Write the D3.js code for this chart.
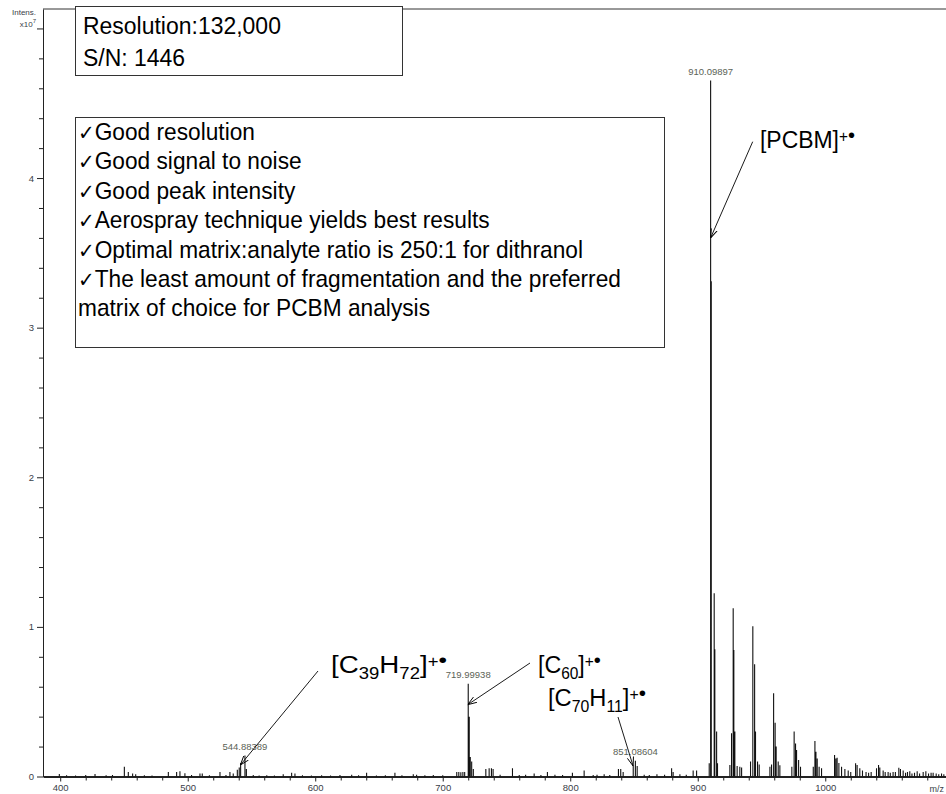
<!DOCTYPE html>
<html>
<head>
<meta charset="utf-8">
<script src="https://d3js.org/d3.v7.min.js"></script>
<style>
body { margin: 0; background: #fff; }
svg { display: block; }
.axis text { font-family: "Liberation Sans", Arial, sans-serif; font-size: 9.5px; fill: #3a4048; }
.axis line, .axis path { stroke: #222; }
.calibri { font-family: "Liberation Sans Narrow", "Arial Narrow", "Liberation Sans", Arial, sans-serif; fill: #000; }
.peaklab { font-family: "Liberation Sans", Arial, sans-serif; font-size: 9.5px; fill: #5b6356; }
</style>
</head>
<body>
<script>
// labelled peaks (m/z, intensity x10^7)
var labelMz = [544.88389, 719.99938, 851.08604, 910.09897];
var labelInt = [0.14, 0.62, 0.105, 4.652];

// PCBM region clusters
var clusterMz = [909.0, 910.6, 912.9, 913.4, 914.8, 915.5,
  925.2, 926.5, 927.8, 928.3, 929.1, 930.9, 933.0, 934.4,
  941.4, 943.2, 944.6, 945.3, 946.9, 948.2,
  956.6, 957.9, 959.5, 960.7, 961.5, 963.1, 964.4,
  973.8, 975.6, 976.7, 977.5, 979.1, 980.6,
  990.6, 991.9, 992.7, 993.7, 995.2, 997.1,
  1007.3, 1008.3, 1009.3, 1010.7, 1012.8, 1015.4,
  1023.8, 1025.0, 1027.1, 1029.2,
  1040.2, 1041.8, 1042.8, 1045.4, 1049.3, 1053.2,
  1057.7, 1059.0, 1061.1, 1066.3, 1072.1, 1076.8, 1078.9, 1084.6, 1091.2];
var clusterInt = [0.088, 3.31, 1.225, 0.85, 0.30, 0.088,
  0.077, 0.289, 1.124, 0.846, 0.30, 0.07, 0.065, 0.06,
  0.10, 1.005, 0.75, 0.30, 0.10, 0.08,
  0.065, 0.08, 0.556, 0.36, 0.20, 0.10, 0.075,
  0.065, 0.30, 0.22, 0.177, 0.11, 0.065,
  0.065, 0.237, 0.166, 0.12, 0.065, 0.055,
  0.144, 0.12, 0.125, 0.09, 0.065, 0.05,
  0.088, 0.077, 0.055, 0.04,
  0.055, 0.077, 0.06, 0.04, 0.03, 0.03,
  0.058, 0.05, 0.04, 0.035, 0.035, 0.03, 0.035, 0.025, 0.02];

// C60 region
var c60Mz = [711.0, 712.6, 714.2, 715.8, 717.2, 720.8, 721.6, 722.7, 724.0];
var c60Int = [0.03, 0.03, 0.028, 0.03, 0.03, 0.40, 0.13, 0.10, 0.05];

// small peaks along the baseline
var noiseMz = [399.3, 405, 412, 420, 427.3, 436, 441, 450.3, 453.4, 456.8, 459.2, 466, 472,
  484.8, 491.3, 493.9, 497.8, 503, 509.6, 511.4, 517, 525.3, 530, 533.1, 535.7, 538.9, 540.4, 541.5, 546.0,
  551.4, 556, 562, 568, 574.9, 581.5, 584.1, 590, 597, 605, 612, 619.4, 628.6, 634, 640.3, 648, 655,
  662.5, 668, 676.9, 679.5, 686, 692.6, 700,
  733.8, 736.4, 738.2, 739.5, 745, 754.7, 760, 765, 771.7, 777, 782.1, 788, 794, 801.7, 810.9,
  818, 821, 826.6, 831, 837.8, 839.6, 841.5, 849.4, 852.5, 858, 862, 868, 874, 879.5, 880.7, 886, 891, 896.4, 899.1,
  1018, 1020, 1032, 1034, 1036, 1047, 1051, 1055, 1063, 1064.5, 1068, 1070, 1074, 1081, 1083, 1087, 1089, 1093];
var noiseInt = [0.017, 0.008, 0.006, 0.01, 0.017, 0.008, 0.01, 0.066, 0.03, 0.02, 0.015, 0.008, 0.007,
  0.03, 0.03, 0.035, 0.022, 0.01, 0.02, 0.02, 0.008, 0.03, 0.01, 0.03, 0.02, 0.045, 0.06, 0.09, 0.05,
  0.01, 0.007, 0.008, 0.006, 0.015, 0.025, 0.02, 0.008, 0.006, 0.008, 0.007, 0.01, 0.012, 0.008, 0.025, 0.007, 0.009,
  0.025, 0.008, 0.015, 0.012, 0.008, 0.01, 0.008,
  0.05, 0.055, 0.055, 0.05, 0.012, 0.055, 0.01, 0.012, 0.02, 0.01, 0.03, 0.012, 0.01, 0.025, 0.04,
  0.01, 0.012, 0.015, 0.01, 0.05, 0.05, 0.03, 0.07, 0.07, 0.012, 0.01, 0.015, 0.012, 0.055, 0.03, 0.015, 0.012, 0.04, 0.04,
  0.04, 0.03, 0.03, 0.025, 0.03, 0.03, 0.025, 0.03, 0.025, 0.03, 0.02, 0.025, 0.02, 0.02, 0.025, 0.02, 0.015, 0.015];

var xTicks = [400, 500, 600, 700, 800, 900, 1000];
var xMinor = [420, 440, 460, 480, 520, 540, 560, 580, 620, 640, 660, 680, 720, 740, 760, 780,
  820, 840, 860, 880, 920, 940, 960, 980, 1020, 1040, 1060, 1080];
var yTicks = [0, 1, 2, 3, 4, 5];
var yMinor = [0.2, 0.4, 0.6, 0.8, 1.2, 1.4, 1.6, 1.8, 2.2, 2.4, 2.6, 2.8, 3.2, 3.4, 3.6, 3.8, 4.2, 4.4, 4.6, 4.8];

var statLines = ["Resolution:132,000", "S/N: 1446"];
var noteLines = [
  ["\u2713", "Good resolution"],
  ["\u2713", "Good signal to noise"],
  ["\u2713", "Good peak intensity"],
  ["\u2713", "Aerospray technique yields best results"],
  ["\u2713", "Optimal matrix:analyte ratio is 250:1 for dithranol"],
  ["\u2713", "The least amount of fragmentation and the preferred"],
  ["", "matrix of choice for PCBM analysis"]
];

// ion annotations: text parts, label anchor, arrow start, arrow tip (m/z, intensity)
var ions = [
  {parts: [["[PCBM]", ""], ["+", "sup"], ["\u2022", "dot"]], lx: 760, ly: 148, w: 95, sx: 752.7, sy: 141.7, tipMz: 910.1, tipInt: 3.6},
  {parts: [["[C", ""], ["60", "sub"], ["]", ""], ["+", "sup"], ["\u2022", "dot"]], lx: 538, ly: 673, w: 63, sx: 530, sy: 663, tipMz: 719.6, tipInt: 0.48},
  {parts: [["[C", ""], ["70", "sub"], ["H", ""], ["11", "sub"], ["]", ""], ["+", "sup"], ["\u2022", "dot"]], lx: 548, ly: 706, w: 98, sx: 618, sy: 717, tipMz: 849.3, tipInt: 0.07},
  {parts: [["[C", ""], ["39", "sub"], ["H", ""], ["72", "sub"], ["]", ""], ["+", "sup"], ["\u2022", "dot"]], lx: 331, ly: 673, w: 116, sx: 318, sy: 671, tipMz: 541.3, tipInt: 0.077}
];

var W = 946, H = 794;
var svg = d3.select("body").append("svg").attr("width", W).attr("height", H);
svg.append("rect").attr("width", W).attr("height", H).attr("fill", "#fff");

var x = d3.scaleLinear().domain([386.5, 1094.7]).range([43, 946]);
var y = d3.scaleLinear().domain([0, 5.13]).range([776.5, 9]);

// top frame line
svg.append("line").attr("x1", 43).attr("x2", W).attr("y1", y(5.13)).attr("y2", y(5.13))
  .attr("stroke", "#333").attr("stroke-width", 1);

// y axis
svg.append("g").attr("class", "axis").attr("transform", "translate(43,0)")
  .call(d3.axisLeft(y).tickValues(yTicks).tickSize(6).tickSizeOuter(0)
    .tickFormat(function(d) { return d < 5 ? d : ""; }));
svg.append("g").attr("class", "axis").attr("transform", "translate(43,0)")
  .call(d3.axisLeft(y).tickValues(yMinor).tickSize(4).tickSizeOuter(0).tickFormat(""))
  .select(".domain").remove();

// x axis
var xg = svg.append("g").attr("class", "axis").attr("transform", "translate(0," + y(0) + ")")
  .call(d3.axisBottom(x).tickValues(xTicks).tickSize(5).tickSizeOuter(0).tickFormat(d3.format("d")));
xg.select(".domain").attr("stroke-width", 2);
svg.append("g").attr("class", "axis").attr("transform", "translate(0," + y(0) + ")")
  .call(d3.axisBottom(x).tickValues(xMinor).tickSize(4).tickSizeOuter(0).tickFormat(""))
  .select(".domain").remove();

// axis captions
var cap = svg.append("g").attr("font-family", "Liberation Sans, Arial, sans-serif").attr("font-size", 8).attr("fill", "#3a4048");
cap.append("text").attr("x", 36).attr("y", 15).attr("text-anchor", "end").text("Intens.");
var xt = cap.append("text").attr("x", 36).attr("y", 27).attr("text-anchor", "end");
xt.append("tspan").text("x10");
xt.append("tspan").attr("dy", -4).attr("font-size", 6).text("7");
cap.append("text").attr("x", 944).attr("y", 792).attr("text-anchor", "end").attr("font-size", 9).text("m/z");

// spectrum sticks
var sticks = [];
noiseMz.forEach(function(m, i) { sticks.push([m, noiseInt[i]]); });
c60Mz.forEach(function(m, i) { sticks.push([m, c60Int[i]]); });
clusterMz.forEach(function(m, i) { sticks.push([m, clusterInt[i]]); });
labelMz.forEach(function(m, i) { sticks.push([m, labelInt[i]]); });
svg.append("path")
  .attr("d", sticks.map(function(p) { return "M" + x(p[0]) + "," + y(0) + "V" + y(p[1]); }).join(""))
  .attr("fill", "none").attr("stroke", "#111").attr("stroke-width", 1.1);

// peak m/z labels
svg.selectAll(".peaklab").data(labelMz).join("text")
  .attr("class", "peaklab")
  .attr("x", function(d) { return x(d); })
  .attr("y", function(d, i) { return y(labelInt[i]) - 6; })
  .attr("text-anchor", "middle")
  .text(function(d) { return d.toFixed(5); });

// squeeze a text group horizontally to a measured width
function fit(g, x0, target, node) {
  var w = node.getBBox().width;
  var k = target / w;
  g.attr("transform", "translate(" + x0 + ",0) scale(" + k + ",1) translate(" + (-x0) + ",0)");
}

// box 1
svg.append("rect").attr("x", 75.5).attr("y", 6.5).attr("width", 327).attr("height", 69)
  .attr("fill", "#fff").attr("stroke", "#333");
var g1 = svg.append("g").attr("class", "calibri");
g1.selectAll("text").data(statLines).join("text")
  .attr("x", 83).attr("y", function(d, i) { return 34 + i * 32; })
  .attr("font-size", 24).text(function(d) { return d; });
fit(g1, 83, 198, g1.select("text").node());

// box 2
svg.append("rect").attr("x", 75.5).attr("y", 117.5).attr("width", 589).attr("height", 230)
  .attr("fill", "#fff").attr("stroke", "#333");
var g2 = svg.append("g").attr("class", "calibri");
var nl = g2.selectAll("text").data(noteLines).join("text")
  .attr("x", 78).attr("y", function(d, i) { return 140 + i * 29.4; })
  .attr("font-size", 24);
nl.append("tspan").attr("font-family", "DejaVu Sans, sans-serif").attr("font-size", 21).text(function(d) { return d[0]; });
nl.append("tspan").text(function(d) { return d[1]; });
fit(g2, 78, 505, nl.nodes()[4]);

// arrows
var defs = svg.append("defs");
defs.append("marker").attr("id", "arr").attr("viewBox", "0 0 10 10")
  .attr("refX", 10).attr("refY", 5).attr("markerWidth", 9).attr("markerHeight", 9)
  .attr("markerUnits", "userSpaceOnUse").attr("orient", "auto")
  .append("path").attr("d", "M0,1.5L10,5L0,8.5").attr("fill", "none").attr("stroke", "#000").attr("stroke-width", 1);

svg.selectAll(".arrow").data(ions).join("line")
  .attr("class", "arrow")
  .attr("x1", function(d) { return d.sx; }).attr("y1", function(d) { return d.sy; })
  .attr("x2", function(d) { return x(d.tipMz); }).attr("y2", function(d) { return y(d.tipInt); })
  .attr("stroke", "#000").attr("stroke-width", 0.9).attr("marker-end", "url(#arr)");

// ion labels
ions.forEach(function(ion) {
  var g = svg.append("g").attr("class", "calibri");
  var t = g.append("text").attr("x", ion.lx).attr("y", ion.ly).attr("font-size", 24);
  var shift = 0;
  ion.parts.forEach(function(p) {
    var dy = 0, fs = 24;
    if (p[1] === "sub") { dy = 6 - shift; shift = 6; fs = 16; }
    else if (p[1] === "sup") { dy = -6 - shift; shift = -6; fs = 16; }
    else if (p[1] === "dot") { dy = 0; fs = 21; }
    else { dy = -shift; shift = 0; }
    t.append("tspan").attr("dy", dy).attr("font-size", fs).text(p[0]);
  });
  fit(g, ion.lx, ion.w, t.node());
});
</script>
</body>
</html>
